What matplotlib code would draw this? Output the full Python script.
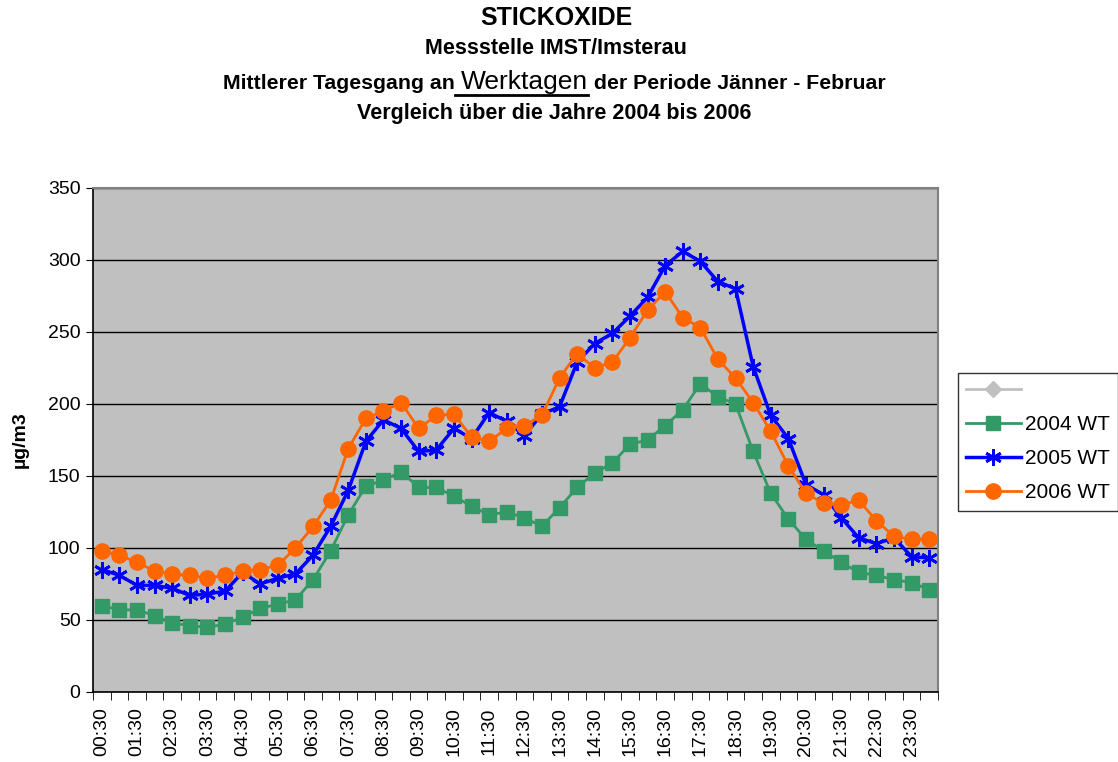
import numpy as np
import matplotlib
matplotlib.use("Agg")
import matplotlib.pyplot as plt
from matplotlib.lines import Line2D

plt.rcParams['font.family'] = ['Liberation Sans', 'DejaVu Sans']

# half-hour categories 00:30 ... 24:00
times = ["%02d:%02d" % divmod(30 * (k + 1), 60) for k in range(48)]

nox_2004 = [60, 57, 57, 53, 48, 46, 45, 47, 52, 58, 61, 64, 78, 98, 123, 143,
            147, 153, 142, 142, 136, 129, 123, 125, 121, 115, 128, 142, 152, 159, 172, 175,
            185, 196, 214, 205, 200, 167, 138, 120, 106, 98, 90, 83, 81, 78, 76, 71]
nox_2005 = [85, 81, 74, 74, 72, 67, 68, 70, 83, 75, 79, 82, 95, 115, 140, 174,
            189, 183, 167, 168, 183, 176, 194, 188, 178, 193, 198, 229, 242, 249, 261, 274,
            296, 306, 299, 285, 280, 226, 192, 176, 144, 137, 121, 107, 103, 107, 94, 93]
nox_2006 = [98, 95, 90, 84, 82, 81, 79, 81, 84, 85, 88, 100, 115, 133, 169, 190,
            195, 201, 183, 192, 193, 177, 174, 183, 185, 192, 218, 235, 225, 229, 246, 265,
            278, 260, 253, 231, 218, 201, 181, 157, 138, 131, 130, 133, 119, 108, 106, 106]

series = [
    ("2004 WT", nox_2004, "#339966", "s", 10, 2.0),
    ("2005 WT", nox_2005, "#0000FF", (6, 2, 0), 12, 2.5),
    ("2006 WT", nox_2006, "#FF6600", "o", 11, 2.0),
]

fig = plt.figure(figsize=(11.18, 7.62), dpi=100)
ax = fig.add_axes([0.0832, 0.0919, 0.7558, 0.6614])
ax.set_facecolor("#C0C0C0")

x = np.arange(len(times))
handles = [Line2D([], [], color="#C0C0C0", marker="D", markersize=8, lw=2,
                  markerfacecolor="#C0C0C0", markeredgecolor="#C0C0C0")]
labels = [""]
for name, vals, col, mk, ms, lw in series:
    ln, = ax.plot(x, vals, color=col, lw=lw, marker=mk, markersize=ms,
                  markerfacecolor=col, markeredgecolor=col,
                  markeredgewidth=2 if mk == (6, 2, 0) else 1, zorder=3)
    handles.append(ln)
    labels.append(name)

ax.set_xlim(-0.5, len(times) - 0.5)
ax.set_ylim(0, 350)
ax.set_yticks(np.arange(0, 351, 50))
ax.yaxis.grid(True, color="black", lw=1)
ax.set_axisbelow(True)
ax.tick_params(axis="y", labelsize=14, length=5, direction="out", pad=4)

ax.set_xticks(x[::2])
ax.set_xticklabels(times[::2], rotation=90, fontsize=14)
ax.set_xticks(np.arange(-0.5, len(times)), minor=True)
ax.tick_params(axis="x", which="major", length=0, pad=11)
ax.tick_params(axis="x", which="minor", length=6)

for s in ["top", "right"]:
    ax.spines[s].set_color("#808080")
    ax.spines[s].set_linewidth(1.5)
for s in ["left", "bottom"]:
    ax.spines[s].set_color("black")
    ax.spines[s].set_linewidth(1.2)

ax.set_ylabel("µg/m3", fontsize=14, fontweight="bold", labelpad=14)

leg = fig.legend(handles, labels, loc="upper left",
                 bbox_to_anchor=(958 / 1118, 1 - 373 / 762), fontsize=15,
                 frameon=True, fancybox=False, handlelength=2.6,
                 borderpad=0.4, labelspacing=0.72, handletextpad=0.2,
                 borderaxespad=0)
leg.get_frame().set_edgecolor("black")
leg.get_frame().set_linewidth(1)

# title block
fig.text(556 / 1118, 1 - 18 / 762, "STICKOXIDE", ha="center", va="center",
         fontsize=18, fontweight="bold")
fig.text(556 / 1118, 1 - 48 / 762, "Messstelle IMST/Imsterau", ha="center", va="center",
         fontsize=15.5, fontweight="bold")
fig.text(554 / 1118, 1 - 113 / 762, "Vergleich über die Jahre 2004 bis 2006", ha="center",
         va="center", fontsize=15.5, fontweight="bold")

parts = [("Mittlerer Tagesgang an ", 15.3, "bold"), ("Werktagen", 19, "normal"),
         (" der Periode Jänner - Februar", 15.3, "bold")]
renderer = fig.canvas.get_renderer()
texts = []
for s, fs, fw in parts:
    t = fig.text(0, 1 - 89 / 762, s, ha="left", va="baseline", fontsize=fs, fontweight=fw)
    texts.append(t)
widths = [t.get_window_extent(renderer).width for t in texts]
total = sum(widths)
xstart = 554 - total / 2
for t, w in zip(texts, widths):
    t.set_x(xstart / 1118)
    if t.get_text() == "Werktagen":
        y_ul = 1 - 95 / 762
        fig.add_artist(Line2D([(xstart - 5) / 1118, (xstart + w) / 1118], [y_ul, y_ul],
                              color="black", lw=2, transform=fig.transFigure))
    xstart += w

fig.savefig("out.png", dpi=100)
